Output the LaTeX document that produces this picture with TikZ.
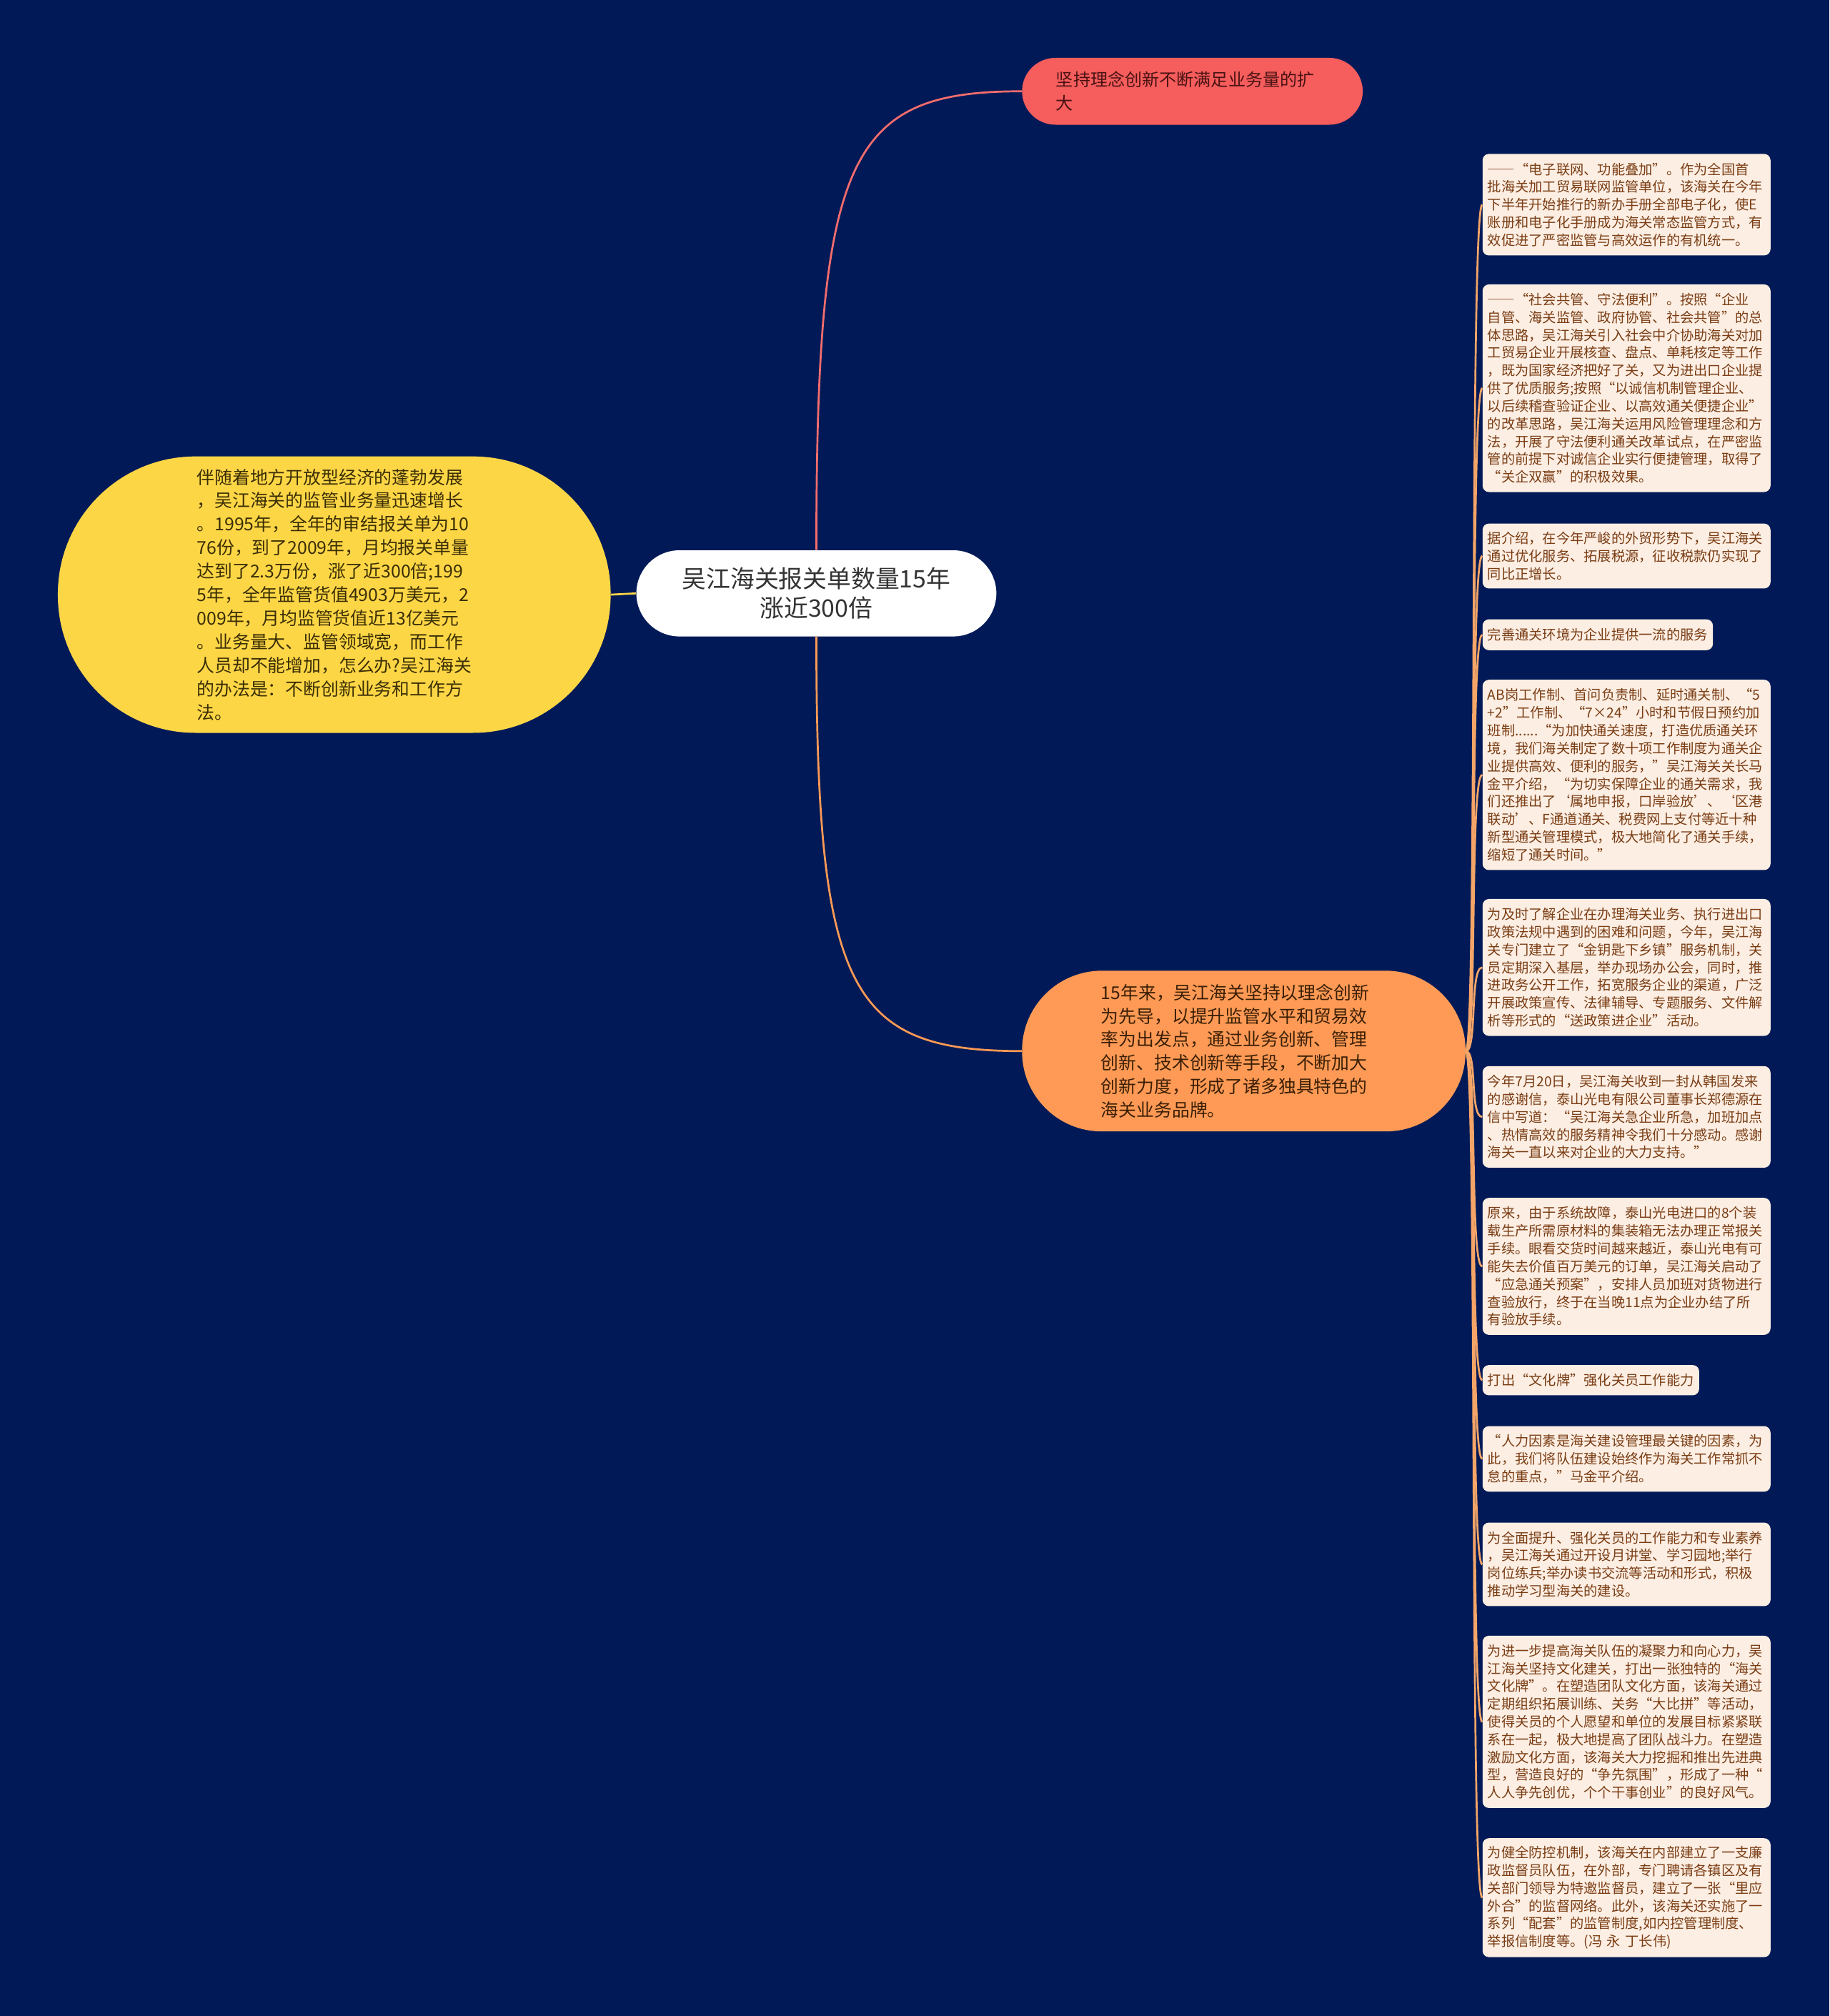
\documentclass[tikz,border=0pt]{standalone}
\usepackage{fontspec}
\setmainfont{Noto Sans CJK SC}
\newfontfamily\fwfont{Noto Sans CJK SC}[RawFeature=+fwid]

\definecolor{bgnavy}{HTML}{011A57}
\definecolor{topred}{HTML}{F65D5D}
\definecolor{toptext}{HTML}{4A1212}
\definecolor{yelfill}{HTML}{FDD646}
\definecolor{yeltext}{HTML}{3A2E05}
\definecolor{subfill}{HTML}{FE9A55}
\definecolor{subtext}{HTML}{3A1E05}
\definecolor{leaffill}{HTML}{FCEEE3}
\definecolor{leaftext}{HTML}{7A3D14}
\definecolor{bundle}{HTML}{F4A567}

% full-width quotes and dashes
\newcommand{\qo}{\makebox[1em][r]{“}}
\newcommand{\qc}{\makebox[1em][l]{”}}
\newcommand{\sqo}{\makebox[1em][r]{‘}}
\newcommand{\sqc}{\makebox[1em][l]{’}}
\newcommand{\dd}{{\fwfont ——}}

\begin{document}
\begin{tikzpicture}[x=1pt, y=-1pt,
	bubble/.style={inner sep=0pt, align=left},
	leaf/.style={anchor=north west, fill=leaffill, text=leaftext, rounded corners=5pt,
		inner xsep=4pt, inner ysep=0pt, align=left, font=\fontsize{10.7}{13.8}\selectfont},
	wide/.style={text width=216pt},
	link/.style={line width=1.5pt}]
	% Background
	\fill[bgnavy] (0,0) rectangle (1423,1568);
	% Main topics
	\node[bubble, align=center, fill=white, text=black!80, rounded corners=33.5pt,
		minimum width=280pt, minimum height=67pt, font=\fontsize{18.8}{23}\selectfont]
		(root) at (635,461.5) {吴江海关报关单数量15年\\涨近300倍};
	\node[bubble, fill=topred, text=toptext, rounded corners=26pt, text width=212pt,
		minimum width=265pt, minimum height=52pt, font=\fontsize{13.4}{18}\selectfont]
		(top) at (927.5,71) {坚持理念创新不断满足业务量的扩\\大};
	\node[bubble, fill=yelfill, text=yeltext, rounded corners=107pt,
		minimum width=430pt, minimum height=215pt, font=\fontsize{13.8}{18.3}\selectfont]
		(yel) at (260,462.5) {伴随着地方开放型经济的蓬勃发展\\，吴江海关的监管业务量迅速增长\\。1995年，全年的审结报关单为10\\76份，到了2009年，月均报关单量\\达到了2.3万份，涨了近300倍;199\\5年，全年监管货值4903万美元，2\\009年，月均监管货值近13亿美元\\。业务量大、监管领域宽，而工作\\人员却不能增加，怎么办?吴江海关\\的办法是：不断创新业务和工作方\\法。};
	\node[bubble, fill=subfill, text=subtext, rounded corners=62pt, text width=222pt,
		minimum width=345pt, minimum height=125pt, font=\fontsize{13.8}{18.3}\selectfont]
		(sub) at (967.5,817.5) {15年来，吴江海关坚持以理念创新\\为先导，以提升监管水平和贸易效\\率为出发点，通过业务创新、管理\\创新、技术创新等手段，不断加大\\创新力度，形成了诸多独具特色的\\海关业务品牌。};
	% Detail boxes
	\node[leaf, wide, minimum height=79pt] (b1) at (1153,119.5)
		{\dd\qo 电子联网、功能叠加\qc 。作为全国首\\批海关加工贸易联网监管单位，该海关在今年\\下半年开始推行的新办手册全部电子化，使E\\账册和电子化手册成为海关常态监管方式，有\\效促进了严密监管与高效运作的有机统一。};
	\node[leaf, wide, minimum height=161.5pt] (b2) at (1153,221)
		{\dd\qo 社会共管、守法便利\qc 。按照\qo 企业\\自管、海关监管、政府协管、社会共管\qc 的总\\体思路，吴江海关引入社会中介协助海关对加\\工贸易企业开展核查、盘点、单耗核定等工作\\，既为国家经济把好了关，又为进出口企业提\\供了优质服务;按照\qo 以诚信机制管理企业、\\以后续稽查验证企业、以高效通关便捷企业\qc\\的改革思路，吴江海关运用风险管理理念和方\\法，开展了守法便利通关改革试点，在严密监\\管的前提下对诚信企业实行便捷管理，取得了\\\qo 关企双赢\qc 的积极效果。};
	\node[leaf, wide, minimum height=50.5pt] (b3) at (1153,407)
		{据介绍，在今年严峻的外贸形势下，吴江海关\\通过优化服务、拓展税源，征收税款仍实现了\\同比正增长。};
	\node[leaf, minimum height=24pt] (b4) at (1153,481.5)
		{完善通关环境为企业提供一流的服务};
	\node[leaf, wide, minimum height=148pt] (b5) at (1153,528.5)
		{AB岗工作制、首问负责制、延时通关制、\qo 5\\+2\qc 工作制、\qo 7×24\qc 小时和节假日预约加\\班制......\qo 为加快通关速度，打造优质通关环\\境，我们海关制定了数十项工作制度为通关企\\业提供高效、便利的服务，\qc 吴江海关关长马\\金平介绍，\qo 为切实保障企业的通关需求，我\\们还推出了\sqo 属地申报，口岸验放\sqc 、\sqo 区港\\联动\sqc 、F通道通关、税费网上支付等近十种\\新型通关管理模式，极大地简化了通关手续，\\缩短了通关时间。\qc};
	\node[leaf, wide, minimum height=106.5pt] (b6) at (1153,699)
		{为及时了解企业在办理海关业务、执行进出口\\政策法规中遇到的困难和问题，今年，吴江海\\关专门建立了\qo 金钥匙下乡镇\qc 服务机制，关\\员定期深入基层，举办现场办公会，同时，推\\进政务公开工作，拓宽服务企业的渠道，广泛\\开展政策宣传、法律辅导、专题服务、文件解\\析等形式的\qo 送政策进企业\qc 活动。};
	\node[leaf, wide, minimum height=79pt] (b7) at (1153,829)
		{今年7月20日，吴江海关收到一封从韩国发来\\的感谢信，泰山光电有限公司董事长郑德源在\\信中写道：\qo 吴江海关急企业所急，加班加点\\、热情高效的服务精神令我们十分感动。感谢\\海关一直以来对企业的大力支持。\qc};
	\node[leaf, wide, minimum height=106.5pt] (b8) at (1153,931.5)
		{原来，由于系统故障，泰山光电进口的8个装\\载生产所需原材料的集装箱无法办理正常报关\\手续。眼看交货时间越来越近，泰山光电有可\\能失去价值百万美元的订单，吴江海关启动了\\\qo 应急通关预案\qc ，安排人员加班对货物进行\\查验放行，终于在当晚11点为企业办结了所\\有验放手续。};
	\node[leaf, minimum height=23.5pt] (b9) at (1153,1061.5)
		{打出\qo 文化牌\qc 强化关员工作能力};
	\node[leaf, wide, minimum height=51pt] (b10) at (1153,1109)
		{\qo 人力因素是海关建设管理最关键的因素，为\\此，我们将队伍建设始终作为海关工作常抓不\\怠的重点，\qc 马金平介绍。};
	\node[leaf, wide, minimum height=65pt] (b11) at (1153,1184)
		{为全面提升、强化关员的工作能力和专业素养\\，吴江海关通过开设月讲堂、学习园地;举行\\岗位练兵;举办读书交流等活动和形式，积极\\推动学习型海关的建设。};
	\node[leaf, wide, minimum height=134pt] (b12) at (1153,1272)
		{为进一步提高海关队伍的凝聚力和向心力，吴\\江海关坚持文化建关，打出一张独特的\qo 海关\\文化牌\qc 。在塑造团队文化方面，该海关通过\\定期组织拓展训练、关务\qo 大比拼\qc 等活动，\\使得关员的个人愿望和单位的发展目标紧紧联\\系在一起，极大地提高了团队战斗力。在塑造\\激励文化方面，该海关大力挖掘和推出先进典\\型，营造良好的\qo 争先氛围\qc ，形成了一种\qo\\人人争先创优，个个干事创业\qc 的良好风气。};
	\node[leaf, wide, minimum height=92.5pt] (b13) at (1153,1429.5)
		{为健全防控机制，该海关在内部建立了一支廉\\政监督员队伍，在外部，专门聘请各镇区及有\\关部门领导为特邀监督员，建立了一张\qo 里应\\外合\qc 的监督网络。此外，该海关还实施了一\\系列\qo 配套\qc 的监管制度,如内控管理制度、\\举报信制度等。(冯 永 丁长伟)};
	% Connectors
	\draw[link, topred!90!white] (root.north) .. controls (635,120) and (660,71) .. (top.west);
	\draw[link, subfill] (root.south) .. controls (635,770) and (660,817.5) .. (sub.west);
	\draw[link, yelfill] (yel.east) -- (root.west);
	\foreach \i in {1,...,13}
		\draw[link, bundle] (sub.east) .. controls ([xshift=9pt]sub.east) and ([xshift=-10pt]b\i.west) .. (b\i.west);
\end{tikzpicture}
\end{document}
